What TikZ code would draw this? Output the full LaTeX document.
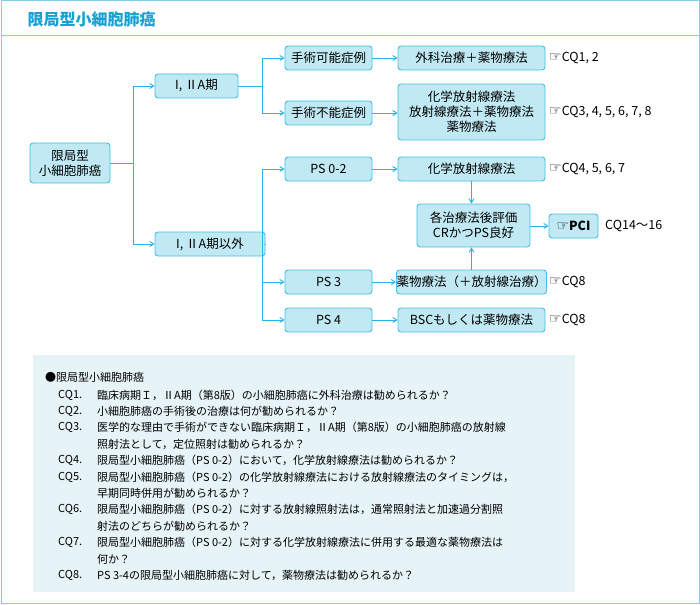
\documentclass[tikz,border=0pt]{standalone}
\usepackage{fontspec}
\setmainfont{Noto Sans CJK JP}
\newfontfamily\symf{DejaVu Sans}
\usetikzlibrary{arrows.meta}
\definecolor{nfill}{RGB}{192,233,243}
\definecolor{nline}{RGB}{70,190,225}
\definecolor{arr}{RGB}{40,180,225}
\definecolor{frame}{RGB}{130,205,232}
\definecolor{ttl}{RGB}{25,160,210}
\definecolor{lbg}{RGB}{230,243,247}
\newcommand{\hand}{{\symf\fontsize{14}{14}\selectfont ☞}}
\tikzset{
 bx/.style={draw=nline,fill=nfill,rounded corners=3pt,line width=0.9pt,align=center,font=\fontsize{12.5}{15}\selectfont,inner sep=0pt},
 ar/.style={draw=arr,line width=0.9pt,-{Straight Barb[length=4pt,width=5pt]}},
 ln/.style={draw=arr,line width=0.9pt},
 cq/.style={anchor=west,font=\fontsize{12.5}{13}\selectfont,inner sep=0pt},
 li/.style={anchor=west,font=\fontsize{11}{12}\selectfont,inner sep=0pt}
}
\begin{document}
\begin{tikzpicture}[x=1pt,y=-1pt]
\useasboundingbox (0,0) rectangle (700,604);
\draw[frame,line width=1pt] (1,1) rectangle (699,603);
\draw[frame,line width=1pt] (1,36) -- (699,36);
\node[anchor=west,text=ttl,font=\fontsize{16}{16}\selectfont\bfseries] (title) at (24,19) {限局型小細胞肺癌};

\node[bx,minimum width=80,minimum height=40] (root) at (70,163) {限局型\\小細胞肺癌};
\node[bx,minimum width=83,minimum height=24] (s1) at (196.5,86) {I, ⅡA期};
\node[bx,minimum width=110,minimum height=24] (s2) at (210,244) {I, ⅡA期以外};
\node[bx,minimum width=87,minimum height=24] (op) at (328.5,58) {手術可能症例};
\node[bx,minimum width=87,minimum height=24] (nop) at (328.5,113) {手術不能症例};
\node[bx,minimum width=147,minimum height=24] (t1) at (471.5,58) {外科治療＋薬物療法};
\node[bx,minimum width=147,minimum height=56] (t2) at (471.5,112) {化学放射線療法\\放射線療法＋薬物療法\\薬物療法};
\node[bx,minimum width=87,minimum height=24] (ps02) at (328.5,169) {PS 0-2};
\node[bx,minimum width=147,minimum height=24] (t3) at (471.5,169) {化学放射線療法};
\node[bx,minimum width=113,minimum height=43] (ev) at (473.5,225.5) {各治療法後評価\\CRかつPS良好};
\node[bx,minimum width=49,minimum height=24] (pci) at (573.5,226) {\hand\textbf{PCI}};
\node[bx,minimum width=87,minimum height=24] (ps3) at (328.5,282) {PS 3};
\node[bx,minimum width=147,minimum height=24] (t4) at (471.5,282) {薬物療法（＋放射線治療）};
\node[bx,minimum width=87,minimum height=24] (ps4) at (328.5,320) {PS 4};
\node[bx,minimum width=147,minimum height=24] (t5) at (471.5,320) {BSCもしくは薬物療法};

\node[cq] (c1) at (549,58) {\hand CQ1, 2};
\node[cq] (c2) at (549,112) {\hand CQ3, 4, 5, 6, 7, 8};
\node[cq] (c3) at (549,169) {\hand CQ4, 5, 6, 7};
\node[cq] (c4) at (605,226) {CQ14～16};
\node[cq] (c5) at (549,282) {\hand CQ8};
\node[cq] (c6) at (549,320) {\hand CQ8};

\coordinate (j0) at (133,163);
\draw[ln] (root.east) -- (j0);
\draw[ar] (j0) |- (s1.west);
\draw[ar] (j0) |- (s2.west);
\coordinate (j1) at (262,86);
\draw[ln] (s1.east) -- (j1);
\draw[ar] (j1) |- (op.west);
\draw[ar] (j1) |- (nop.west);
\coordinate (j2) at (265,244);
\coordinate (j2a) at (262,244);
\draw[ln] (s2.east) -- (j2);
\draw[ar] (j2a) |- (ps02.west);
\draw[ar] (j2a) |- (ps3.west);
\draw[ar] (j2a) |- (ps4.west);
\draw[ar] (op) -- (t1);
\draw[ar] (nop) -- (nop -| t2.west);
\draw[ar] (ps02) -- (t3);
\draw[ar] (ps3) -- (t4);
\draw[ar] (ps4) -- (t5);
\draw[ar] (t3.south) -- (t3.south |- ev.north);
\draw[ar] (t4.north -| t3.south) -- (t3.south |- ev.south);
\draw[ar] (ev.east |- pci) -- (pci.west);

\fill[lbg] (33,355) rectangle (575,592);
\node[li] (h) at (45,377) {●限局型小細胞肺癌};
\foreach \n/\l/\t [count=\i from 0] in {
 a/CQ1./臨床病期Ｉ，ⅡA期（第8版）の小細胞肺癌に外科治療は勧められるか？,
 b/CQ2./小細胞肺癌の手術後の治療は何が勧められるか？,
 c/CQ3./医学的な理由で手術ができない臨床病期Ｉ，ⅡA期（第8版）の小細胞肺癌の放射線,
 d//照射法として，定位照射は勧められるか？,
 e/CQ4./限局型小細胞肺癌（PS 0-2）において，化学放射線療法は勧められるか？,
 f/CQ5./限局型小細胞肺癌（PS 0-2）の化学放射線療法における放射線療法のタイミングは，,
 g//早期同時併用が勧められるか？,
 h/CQ6./限局型小細胞肺癌（PS 0-2）に対する放射線照射法は，通常照射法と加速過分割照,
 i//射法のどちらが勧められるか？,
 j/CQ7./限局型小細胞肺癌（PS 0-2）に対する化学放射線療法に併用する最適な薬物療法は,
 k//何か？,
 l/CQ8./PS 3-4の限局型小細胞肺癌に対して，薬物療法は勧められるか？}{
 \node[li] (l\n) at (58,395+\i*16.4) {\l};
 \node[li] (t\n) at (97,395+\i*16.4) {\t};
}
\end{tikzpicture}
\end{document}
